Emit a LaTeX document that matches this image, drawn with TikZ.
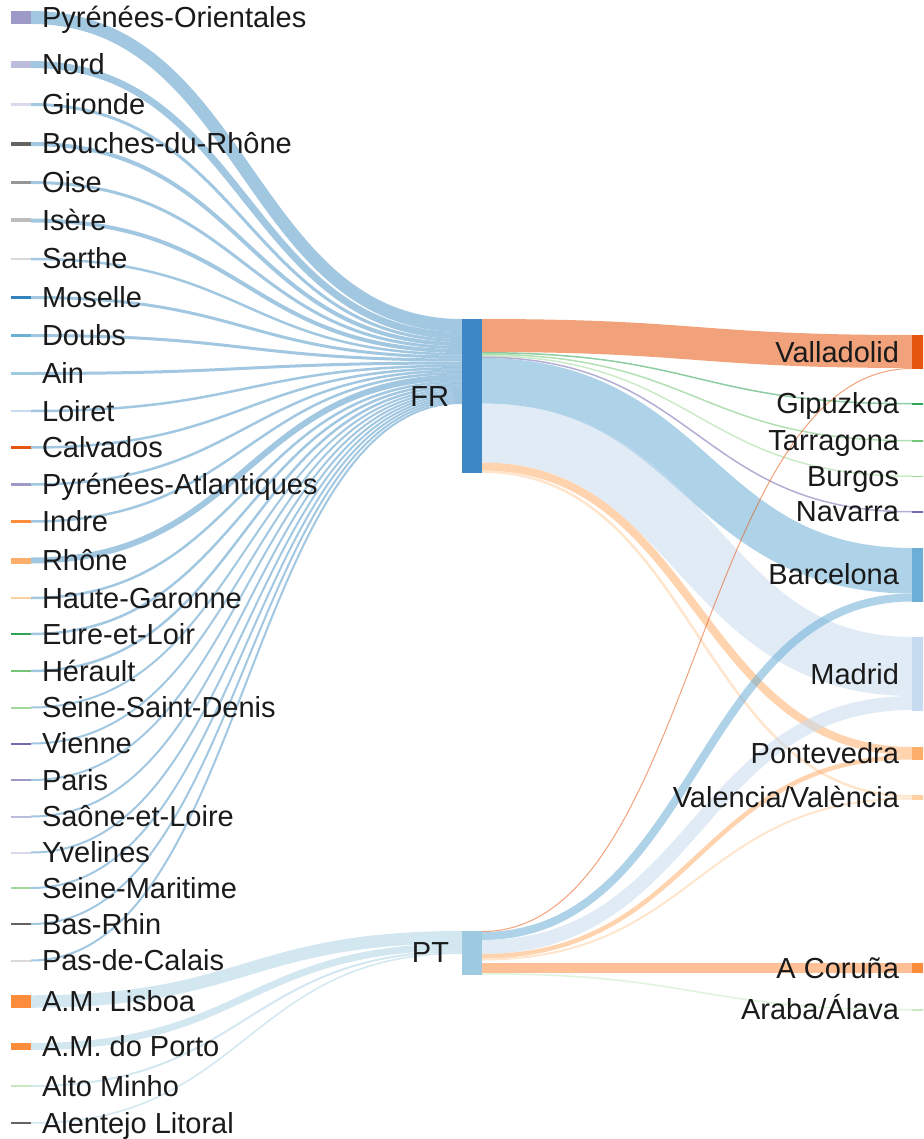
\documentclass[tikz,border=0pt]{standalone}
\usepackage{fontspec}
\setmainfont{Liberation Sans}
\usetikzlibrary{calc}
\pgfdeclarelayer{flows}
\pgfsetlayers{flows,main}

\definecolor{cFR}{HTML}{3182BD}
\definecolor{cFRbar}{HTML}{3D87C4}
\definecolor{cPT}{HTML}{9ECAE1}
\definecolor{b1}{HTML}{3182BD}
\definecolor{b2}{HTML}{6BAED6}
\definecolor{b3}{HTML}{9ECAE1}
\definecolor{b4}{HTML}{C6DBEF}
\definecolor{o1}{HTML}{E6550D}
\definecolor{o2}{HTML}{FD8D3C}
\definecolor{o3}{HTML}{FDAE6B}
\definecolor{o4}{HTML}{FDD0A2}
\definecolor{g1}{HTML}{31A354}
\definecolor{g2}{HTML}{74C476}
\definecolor{g3}{HTML}{A1D99B}
\definecolor{g4}{HTML}{C7E9C0}
\definecolor{p1}{HTML}{756BB1}
\definecolor{p2}{HTML}{9E9AC8}
\definecolor{p3}{HTML}{BCBDDC}
\definecolor{p4}{HTML}{DADAEB}
\definecolor{k1}{HTML}{636363}
\definecolor{k2}{HTML}{969696}
\definecolor{k3}{HTML}{BDBDBD}
\definecolor{k4}{HTML}{D9D9D9}
\definecolor{txt}{HTML}{1A1A1A}

\tikzset{
  bar/.style={draw=none, inner sep=0pt, outer sep=0pt, minimum width=20pt, anchor=north west},
  lbl/.style={inner sep=0pt, outer sep=0pt, font=\fontsize{29}{33}\selectfont, text=txt},
  link/.style={line cap=butt, draw opacity=0.45},
  rlink/.style={line cap=butt, draw opacity=0.55},
}

% left node: name, top, height, colour, text
\newcommand{\leftnode}[5]{%
  \node[bar, fill=#4, minimum height=#3pt] (#1) at (11,#2) {};
  \node[lbl, anchor=base west] (#1-t) at ($(#1.east)+(11,10)$) {#5};}
% right node: name, top, height, colour, text
\newcommand{\rightnode}[5]{%
  \node[bar, fill=#4, minimum height=#3pt] (#1) at (912,#2) {};
  \node[lbl, anchor=base east] (#1-t) at ($(#1.west)+(-13,10)$) {#5};}
% flow: src, src offset, dst, dst offset, thickness, colour
\newcommand{\sflow}[6]{%
  \draw[link, draw=#6, line width=#5pt]
    ($(#1.north east)+(0,#2+#5/2)$) .. controls +(215.5,0) and +(-215.5,0) ..
    ($(#3.north west)+(0,#4+#5/2)$);}
\newcommand{\rflow}[6]{%
  \draw[rlink, draw=#6, line width=#5pt]
    ($(#1.north east)+(0,#2+#5/2)$) .. controls +(215,0) and +(-215,0) ..
    ($(#3.north west)+(0,#4+#5/2)$);}

\begin{document}
\begin{tikzpicture}[x=1pt,y=-1pt]
\useasboundingbox (0,0) rectangle (923,1139);
\clip (0,0) rectangle (923,1139);

% ---------- left nodes ----------
\leftnode{po}{11}{13}{p2}{Pyrénées-Orientales}
\leftnode{nord}{61}{7}{p3}{Nord}
\leftnode{gir}{103}{3}{p4}{Gironde}
\leftnode{bdr}{142}{4}{k1}{Bouches-du-Rhône}
\leftnode{oise}{181}{3}{k2}{Oise}
\leftnode{isere}{218.5}{4}{k3}{Isère}
\leftnode{sarthe}{257.75}{2.5}{k4}{Sarthe}
\leftnode{moselle}{296}{3}{b1}{Moselle}
\leftnode{doubs}{334}{3}{b2}{Doubs}
\leftnode{ain}{372}{3}{b3}{Ain}
\leftnode{loiret}{409.75}{2.5}{b4}{Loiret}
\leftnode{calvados}{446.25}{2.5}{o1}{Calvados}
\leftnode{pyratl}{483.25}{2.5}{p2}{Pyrénées-Atlantiques}
\leftnode{indre}{520.25}{2.5}{o2}{Indre}
\leftnode{rhone}{557.5}{6}{o3}{Rhône}
\leftnode{hg}{596.75}{2.5}{o4}{Haute-Garonne}
\leftnode{eel}{632.75}{2.5}{g1}{Eure-et-Loir}
\leftnode{herault}{669.75}{2.5}{g2}{Hérault}
\leftnode{ssd}{706.5}{2}{g3}{Seine-Saint-Denis}
\leftnode{vienne}{742.5}{2}{p1}{Vienne}
\leftnode{paris}{779}{2}{p2}{Paris}
\leftnode{saone}{815.5}{2}{p3}{Saône-et-Loire}
\leftnode{yvelines}{851.5}{2}{p4}{Yvelines}
\leftnode{seinemar}{887}{2}{g3}{Seine-Maritime}
\leftnode{basrhin}{923}{2}{k1}{Bas-Rhin}
\leftnode{pdc}{959.5}{2}{k4}{Pas-de-Calais}
\leftnode{lisboa}{995.25}{12.5}{o2}{A.M. Lisboa}
\leftnode{porto}{1043}{7}{o2}{A.M. do Porto}
\leftnode{altominho}{1085}{2}{g4}{Alto Minho}
\leftnode{alentejo}{1122.25}{1.5}{k1}{Alentejo Litoral}

% ---------- middle nodes ----------
\node[bar, fill=cFRbar, minimum height=154pt] (FR) at (462,319) {};
\node[lbl, anchor=base east] (FR-t) at ($(FR.west)+(-13,10)$) {FR};
\node[bar, fill=cPT, minimum height=43.5pt] (PT) at (462,931) {};
\node[lbl, anchor=base east] (PT-t) at ($(PT.west)+(-13,10)$) {PT};

% ---------- right nodes ----------
\rightnode{vall}{335}{34}{o1}{Valladolid}
\rightnode{gipu}{403}{1.5}{g1}{Gipuzkoa}
\rightnode{tarr}{440}{1.5}{g2}{Tarragona}
\rightnode{burg}{475.5}{1.5}{g3}{Burgos}
\rightnode{nava}{511}{1.5}{p1}{Navarra}
\rightnode{barc}{548}{53.5}{b2}{Barcelona}
\rightnode{madr}{637}{74}{b4}{Madrid}
\rightnode{pont}{747}{13}{o3}{Pontevedra}
\rightnode{vale}{795}{4.5}{o4}{Valencia/València}
\rightnode{acor}{963}{10}{o2}{A Coruña}
\rightnode{arab}{1009}{1.5}{g4}{Araba/Álava}

% ---------- flows ----------
\begin{pgfonlayer}{flows}
\sflow{po}{0}{FR}{0}{13}{cFR}
\sflow{nord}{0}{FR}{13}{7}{cFR}
\sflow{gir}{0}{FR}{20}{3}{cFR}
\sflow{bdr}{0}{FR}{23}{4}{cFR}
\sflow{oise}{0}{FR}{27}{3}{cFR}
\sflow{isere}{0}{FR}{30}{4}{cFR}
\sflow{sarthe}{0}{FR}{34}{2.5}{cFR}
\sflow{moselle}{0}{FR}{36.5}{3}{cFR}
\sflow{doubs}{0}{FR}{39.5}{3}{cFR}
\sflow{ain}{0}{FR}{42.5}{3}{cFR}
\sflow{loiret}{0}{FR}{45.5}{2.5}{cFR}
\sflow{calvados}{0}{FR}{48}{2.5}{cFR}
\sflow{pyratl}{0}{FR}{50.5}{2.5}{cFR}
\sflow{indre}{0}{FR}{53}{2.5}{cFR}
\sflow{rhone}{0}{FR}{55.5}{6}{cFR}
\sflow{hg}{0}{FR}{61.5}{2.5}{cFR}
\sflow{eel}{0}{FR}{64}{2.5}{cFR}
\sflow{herault}{0}{FR}{66.5}{2.5}{cFR}
\sflow{ssd}{0}{FR}{69}{2}{cFR}
\sflow{vienne}{0}{FR}{71}{2}{cFR}
\sflow{paris}{0}{FR}{73}{2}{cFR}
\sflow{saone}{0}{FR}{75}{2}{cFR}
\sflow{yvelines}{0}{FR}{77}{2}{cFR}
\sflow{seinemar}{0}{FR}{79}{2}{cFR}
\sflow{basrhin}{0}{FR}{81}{2}{cFR}
\sflow{pdc}{0}{FR}{83}{2}{cFR}
\sflow{lisboa}{0}{PT}{0}{12.5}{cPT}
\sflow{porto}{0}{PT}{12.5}{7}{cPT}
\sflow{altominho}{0}{PT}{19.5}{2}{cPT}
\sflow{alentejo}{0}{PT}{21.5}{1.5}{cPT}
% FR out
\rflow{FR}{0}{vall}{0}{33}{o1}
\rflow{FR}{33}{gipu}{0}{1.5}{g1}
\rflow{FR}{34.5}{tarr}{0}{1.5}{g2}
\rflow{FR}{36}{burg}{0}{1.5}{g3}
\rflow{FR}{37.5}{nava}{0}{1.5}{p1}
\rflow{FR}{39}{barc}{0}{45.5}{b2}
\rflow{FR}{84.5}{madr}{0}{59}{b4}
\rflow{FR}{143.5}{pont}{0}{8}{o3}
\rflow{FR}{151.5}{vale}{0}{2.5}{o4}
% PT out
\rflow{PT}{0}{vall}{33}{1}{o1}
\rflow{PT}{1}{barc}{45.5}{8}{b2}
\rflow{PT}{9}{madr}{59}{14}{b4}
\rflow{PT}{23}{pont}{8}{4.5}{o3}
\rflow{PT}{27.5}{vale}{2.5}{2}{o4}
\rflow{PT}{32}{acor}{0}{10}{o2}
\rflow{PT}{42}{arab}{0}{1.5}{g4}
\end{pgfonlayer}
\end{tikzpicture}
\end{document}
